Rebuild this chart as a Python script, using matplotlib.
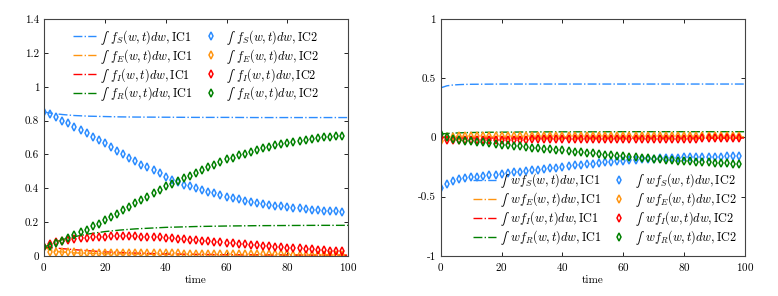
import numpy as np
import matplotlib
matplotlib.use("Agg")
import matplotlib.pyplot as plt

plt.rcParams["font.family"] = ["cmr10", "DejaVu Serif"]
plt.rcParams["mathtext.fontset"] = "custom"
plt.rcParams["mathtext.rm"] = "cmr10"
plt.rcParams["mathtext.it"] = "cmmi10"
plt.rcParams["mathtext.bf"] = "cmb10"
plt.rcParams["mathtext.fallback"] = "stix"
plt.rcParams["axes.formatter.use_mathtext"] = True
plt.rcParams["axes.unicode_minus"] = False

# time grid of the IC2 markers (every 2 time units)
t_ic2 = np.arange(0, 100, 2)
# time points of the IC1 lines
t_ic1 = [0, 2, 4, 6, 8, 10, 15, 20, 25, 30, 40, 50, 60, 70, 80, 90, 100]

# ---- left panel: mass of each compartment ----
mass_ic1_S = [0.85, 0.845, 0.84, 0.836, 0.833, 0.83, 0.826, 0.824, 0.822, 0.821, 0.82, 0.819, 0.819, 0.818, 0.818, 0.818, 0.818]
mass_ic1_E = [0.05, 0.035, 0.027, 0.022, 0.019, 0.017, 0.014, 0.012, 0.011, 0.01, 0.008, 0.007, 0.006, 0.005, 0.005, 0.004, 0.004]
mass_ic1_I = [0.05, 0.048, 0.045, 0.042, 0.039, 0.036, 0.029, 0.023, 0.019, 0.016, 0.011, 0.008, 0.006, 0.005, 0.004, 0.003, 0.003]
mass_ic1_R = [0.05, 0.068, 0.083, 0.095, 0.105, 0.113, 0.13, 0.143, 0.152, 0.159, 0.168, 0.173, 0.176, 0.178, 0.179, 0.18, 0.18]

mass_ic2_S = [0.85, 0.84, 0.82, 0.80, 0.785, 0.765, 0.745, 0.725, 0.705, 0.685,
              0.665, 0.645, 0.62, 0.60, 0.58, 0.56, 0.54, 0.525, 0.505, 0.49,
              0.465, 0.45, 0.435, 0.42, 0.41, 0.40, 0.39, 0.38, 0.37, 0.36,
              0.35, 0.342, 0.335, 0.327, 0.32, 0.313, 0.307, 0.302, 0.297, 0.292,
              0.288, 0.284, 0.28, 0.277, 0.273, 0.27, 0.267, 0.265, 0.262, 0.26]
mass_ic2_E = [0.05, 0.025, 0.021, 0.02, 0.02, 0.02, 0.019, 0.019, 0.019, 0.018,
              0.018, 0.018, 0.017, 0.017, 0.017, 0.016, 0.016, 0.015, 0.015, 0.015,
              0.014, 0.014, 0.014, 0.013, 0.013, 0.012, 0.012, 0.012, 0.011, 0.011,
              0.011, 0.01, 0.01, 0.01, 0.009, 0.009, 0.009, 0.008, 0.008, 0.008,
              0.008, 0.007, 0.007, 0.007, 0.006, 0.006, 0.006, 0.006, 0.005, 0.005]
mass_ic2_I = [0.05, 0.072, 0.082, 0.09, 0.096, 0.10, 0.104, 0.107, 0.11, 0.112,
              0.113, 0.114, 0.115, 0.115, 0.115, 0.114, 0.113, 0.112, 0.11, 0.108,
              0.106, 0.103, 0.10, 0.097, 0.094, 0.091, 0.088, 0.085, 0.082, 0.079,
              0.076, 0.073, 0.07, 0.067, 0.064, 0.061, 0.058, 0.055, 0.052, 0.05,
              0.048, 0.045, 0.043, 0.04, 0.038, 0.036, 0.033, 0.031, 0.029, 0.026]
mass_ic2_R = [0.05, 0.06, 0.075, 0.09, 0.105, 0.12, 0.14, 0.155, 0.175, 0.19,
              0.21, 0.23, 0.25, 0.27, 0.29, 0.31, 0.33, 0.35, 0.37, 0.39,
              0.41, 0.425, 0.44, 0.46, 0.475, 0.49, 0.51, 0.525, 0.54, 0.555,
              0.57, 0.58, 0.595, 0.605, 0.615, 0.625, 0.635, 0.645, 0.655, 0.66,
              0.67, 0.675, 0.68, 0.685, 0.69, 0.695, 0.70, 0.705, 0.71, 0.71]

# ---- right panel: first moment of each compartment ----
mom_ic1_S = [0.42, 0.437, 0.444, 0.447, 0.449, 0.45, 0.451, 0.452, 0.452, 0.452, 0.452, 0.452, 0.452, 0.452, 0.452, 0.452, 0.452]
mom_ic1_E = [0.0, 0.003, 0.004, 0.005, 0.005, 0.005, 0.005, 0.005, 0.005, 0.005, 0.005, 0.005, 0.005, 0.005, 0.005, 0.005, 0.005]
mom_ic1_I = [0.0, -0.003, -0.004, -0.005, -0.005, -0.005, -0.005, -0.005, -0.005, -0.005, -0.005, -0.005, -0.005, -0.005, -0.005, -0.005, -0.005]
mom_ic1_R = [0.03, 0.034, 0.037, 0.039, 0.041, 0.042, 0.044, 0.045, 0.046, 0.047, 0.048, 0.048, 0.049, 0.049, 0.049, 0.049, 0.049]

mom_ic2_S = [-0.43, -0.39, -0.37, -0.355, -0.345, -0.337, -0.33, -0.324, -0.318, -0.313,
             -0.308, -0.302, -0.296, -0.29, -0.284, -0.278, -0.272, -0.266, -0.26, -0.254,
             -0.248, -0.242, -0.236, -0.231, -0.226, -0.221, -0.216, -0.211, -0.206, -0.201,
             -0.197, -0.193, -0.189, -0.186, -0.183, -0.18, -0.177, -0.175, -0.173, -0.171,
             -0.169, -0.167, -0.166, -0.164, -0.163, -0.162, -0.161, -0.16, -0.159, -0.158]
mom_ic2_E = [-0.03, 0.005, 0.008, 0.009, 0.01, 0.01, 0.01, 0.01, 0.01, 0.01,
             0.01, 0.01, 0.01, 0.01, 0.01, 0.01, 0.01, 0.01, 0.01, 0.01,
             0.01, 0.01, 0.01, 0.01, 0.01, 0.01, 0.01, 0.01, 0.01, 0.01,
             0.01, 0.01, 0.01, 0.01, 0.01, 0.01, 0.01, 0.01, 0.01, 0.01,
             0.01, 0.01, 0.01, 0.01, 0.01, 0.01, 0.01, 0.01, 0.01, 0.01]
mom_ic2_I = [0.0, -0.02, -0.022, -0.022, -0.022, -0.021, -0.021, -0.02, -0.02, -0.019,
             -0.019, -0.018, -0.018, -0.017, -0.017, -0.016, -0.016, -0.016, -0.015, -0.015,
             -0.014, -0.014, -0.014, -0.013, -0.013, -0.013, -0.012, -0.012, -0.012, -0.011,
             -0.011, -0.011, -0.011, -0.01, -0.01, -0.01, -0.01, -0.01, -0.009, -0.009,
             -0.009, -0.009, -0.009, -0.008, -0.008, -0.008, -0.008, -0.008, -0.008, -0.007]
mom_ic2_R = [0.03, 0.0, -0.012, -0.02, -0.026, -0.032, -0.037, -0.042, -0.048, -0.054,
             -0.06, -0.065, -0.07, -0.076, -0.081, -0.086, -0.091, -0.096, -0.101, -0.106,
             -0.11, -0.115, -0.12, -0.125, -0.13, -0.135, -0.14, -0.145, -0.15, -0.155,
             -0.16, -0.164, -0.168, -0.172, -0.176, -0.18, -0.184, -0.188, -0.191, -0.195,
             -0.198, -0.201, -0.204, -0.207, -0.21, -0.213, -0.216, -0.219, -0.222, -0.225]

comps = ["S", "E", "I", "R"]
colors = ["#2b8cff", "#ff9410", "#ff0000", "#008000"]

fig = plt.figure(figsize=(7.78, 2.96), dpi=100)
ax1 = fig.add_axes([0.0566, 0.136, 0.391, 0.799])
ax2 = fig.add_axes([0.5666, 0.136, 0.391, 0.799])


def draw(ax, ic1, ic2, fmt):
    h1, h2 = [], []
    for c, col, y1 in zip(comps, colors, ic1):
        l, = ax.plot(t_ic1, y1, "-.", color=col, lw=1.0,
                     label=fmt.format(c) + r"$,\mathrm{IC1}$")
        h1.append(l)
    for c, col, y2 in zip(comps, colors, ic2):
        m, = ax.plot(t_ic2, y2, "d", color=col, ms=4.2, mfc="none", mew=1.1, ls="none",
                     label=fmt.format(c) + r"$,\mathrm{IC2}$")
        h2.append(m)
    ax.set_xlim(0, 100)
    ax.set_xticks([0, 20, 40, 60, 80, 100])
    ax.set_xlabel("time", fontsize=8, labelpad=2)
    ax.tick_params(direction="in", top=True, right=True, labelsize=8, length=3, width=0.6)
    for s in ax.spines.values():
        s.set_color("#444444")
        s.set_linewidth(0.8)
    return h1 + h2


leg_kw = dict(ncol=2, frameon=False, fontsize=8.8, handlelength=1.9, handletextpad=0.3,
              columnspacing=0.5, labelspacing=0.0, borderaxespad=0.3)

h = draw(ax1, [mass_ic1_S, mass_ic1_E, mass_ic1_I, mass_ic1_R],
         [mass_ic2_S, mass_ic2_E, mass_ic2_I, mass_ic2_R],
         r"$\int\;\, f_{}(w,t)dw$")
ax1.set_ylim(0, 1.4)
ax1.set_yticks([0, 0.2, 0.4, 0.6, 0.8, 1, 1.2, 1.4])
ax1.set_yticklabels(["0", "0.2", "0.4", "0.6", "0.8", "1", "1.2", "1.4"])
ax1.legend(handles=h, loc="upper center", **leg_kw)

h = draw(ax2, [mom_ic1_S, mom_ic1_E, mom_ic1_I, mom_ic1_R],
         [mom_ic2_S, mom_ic2_E, mom_ic2_I, mom_ic2_R],
         r"$\int\;\, w f_{}(w,t)dw$")
ax2.set_ylim(-1, 1)
ax2.set_yticks([-1, -0.5, 0, 0.5, 1])
ax2.set_yticklabels(["-1", "-0.5", "0", "0.5", "1"])
ax2.legend(handles=h, loc="lower right", **leg_kw)

fig.savefig("out.png", dpi=100)
